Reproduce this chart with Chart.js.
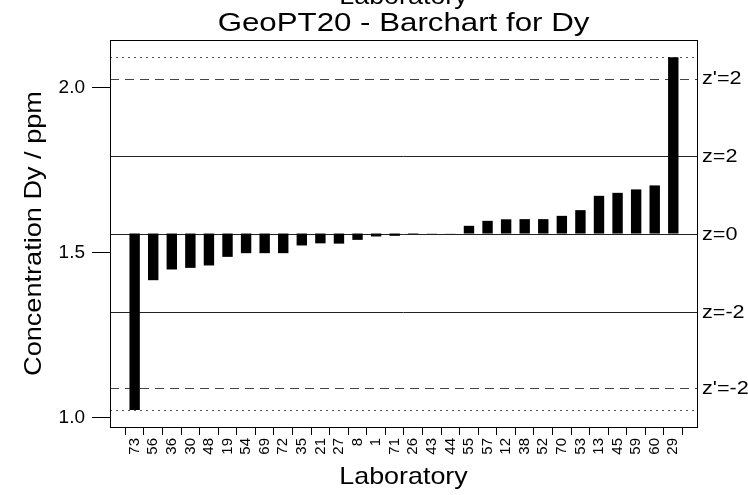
<!DOCTYPE html>
<html>
<head>
<meta charset="utf-8">
<script src="https://cdn.jsdelivr.net/npm/chart.js@4/dist/chart.umd.min.js"></script>
<style>
html,body{margin:0;padding:0;background:#fff;}
#wrap{width:748px;height:495px;}
</style>
</head>
<body>
<div id="wrap"><canvas id="c" width="748" height="495"></canvas></div>
<script>
// ---- data ----
const labs = ['73','56','36','30','48','19','54','69','72','35','21','27','8','1','71','26','43','44','55','57','12','38','52','70','53','13','45','59','60','29'];
const values = [1.022,1.416,1.4485,1.4534,1.4607,1.4868,1.498,1.498,1.498,1.5214,1.5278,1.527,1.5384,1.5487,1.5506,1.556,1.557,1.558,1.581,1.5961,1.6008,1.6013,1.6013,1.6113,1.6286,1.672,1.6811,1.6915,1.7036,2.0923];
const assigned = 1.5576;
const zLines = [1.7926, 1.5576, 1.3207];
const zLabels = ['z=2', 'z=0', 'z=-2'];
const zPrimeLines = [2.028, 1.0894];
const zPrimeLabels = ["z'=2", "z'=-2"];
const rangeLines = [2.0923, 1.0228];
const yTicks = [1.0, 1.5, 2.0];
const titleText = 'GeoPT20 - Barchart for Dy';
const xTitle = 'Laboratory';
const yTitle = 'Concentration Dy / ppm';

const FAM = '"Liberation Sans", Arial, sans-serif';
Chart.defaults.font.family = FAM;
Chart.defaults.color = '#000';

function drawText(ctx, text, x, y, size, sx, rot) {
  ctx.save();
  ctx.translate(x, y);
  if (rot) ctx.rotate(rot);
  ctx.scale(sx, 1);
  ctx.font = size + 'px ' + FAM;
  ctx.fillText(text, 0, 0);
  ctx.restore();
}

const decor = {
  id: 'decor',
  beforeDatasetsDraw(chart) {
    const ctx = chart.ctx, a = chart.chartArea, y = chart.scales.y;
    ctx.save();
    ctx.beginPath(); ctx.rect(a.left, a.top, a.right - a.left, a.bottom - a.top); ctx.clip();
    const line = (v, dash, color) => {
      const py = Math.round(y.getPixelForValue(v)) + 0.5;
      ctx.beginPath(); ctx.setLineDash(dash); ctx.strokeStyle = color; ctx.lineWidth = 1;
      ctx.moveTo(a.left, py); ctx.lineTo(a.right, py); ctx.stroke();
    };
    rangeLines.forEach(v => line(v, [2, 4], '#555'));
    zPrimeLines.forEach(v => line(v, [9, 6], '#444'));
    zLines.forEach(v => line(v, [], '#222'));
    ctx.restore();
  },
  afterDraw(chart) {
    const ctx = chart.ctx, a = chart.chartArea, y = chart.scales.y;
    ctx.save();
    ctx.setLineDash([]);
    ctx.strokeStyle = '#000'; ctx.lineWidth = 1;
    ctx.strokeRect(a.left + 0.5, a.top + 0.5, a.right - a.left, a.bottom - a.top);
    ctx.fillStyle = '#000';
    const cx = (a.left + a.right) / 2;
    ctx.textAlign = 'center'; ctx.textBaseline = 'alphabetic';
    drawText(ctx, xTitle, cx, 4, 24, 1.12);
    drawText(ctx, titleText, cx, 31, 25, 1.25);
    drawText(ctx, xTitle, cx, 484, 24, 1.12);
    drawText(ctx, yTitle, 41, (a.top + a.bottom) / 2, 24, 1.13, -Math.PI / 2);
    ctx.textAlign = 'left'; ctx.textBaseline = 'middle';
    zLines.forEach((v, i) => drawText(ctx, zLabels[i], a.right + 5, y.getPixelForValue(v) + 1, 18, 1.2));
    zPrimeLines.forEach((v, i) => drawText(ctx, zPrimeLabels[i], a.right + 5, y.getPixelForValue(v) + 1, 18, 1.2));
    ctx.restore();
  }
};

new Chart(document.getElementById('c'), {
  type: 'bar',
  data: {
    datasets: [{
      data: values.map((v, i) => ({ x: i, y: [assigned, v] })),
      backgroundColor: '#000',
      borderWidth: 0,
      barPercentage: 0.56,
      categoryPercentage: 1
    }]
  },
  options: {
    responsive: false,
    animation: false,
    layout: { padding: { left: 0, right: 51, top: 40, bottom: 0 } },
    plugins: { legend: { display: false }, tooltip: { enabled: false }, title: { display: false } },
    scales: {
      x: {
        type: 'linear',
        min: -0.8, max: 29.75,
        afterBuildTicks: s => { s.ticks = labs.map((_, i) => ({ value: i })); },
        afterFit: s => { s.height = 68; },
        grid: { drawOnChartArea: false, tickLength: 8, tickColor: '#000' },
        border: { display: false },
        ticks: {
          autoSkip: false, maxRotation: 90, minRotation: 90, padding: 3,
          font: { size: 15 },
          callback: v => labs[v] ?? ''
        }
      },
      y: {
        min: 0.9705, max: 2.1449,
        afterBuildTicks: s => { s.ticks = yTicks.map(v => ({ value: v })); },
        afterFit: s => { s.width = 110; },
        grid: { drawOnChartArea: false, tickLength: 18, tickColor: '#000' },
        border: { display: false },
        ticks: { padding: 7, font: { size: 19 }, callback: v => v.toFixed(1) }
      }
    }
  },
  plugins: [decor]
});
</script>
</body>
</html>
